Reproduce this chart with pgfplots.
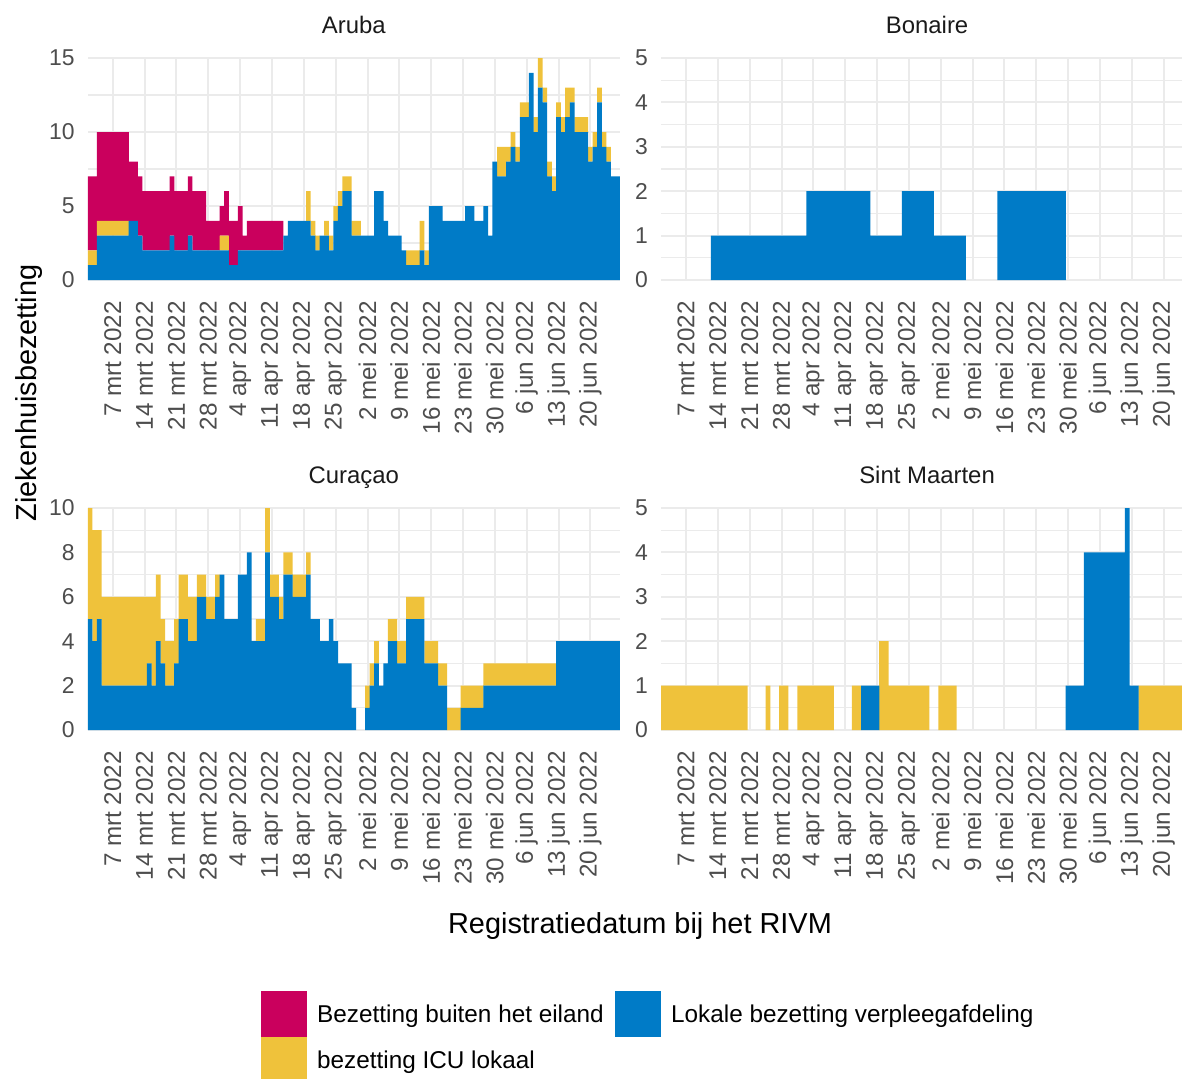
\documentclass[border=0pt]{standalone}
\usepackage{pgfplots}
\pgfplotsset{compat=1.18}
\usepackage{pgfplotstable}
\usepackage{fontspec}
\setmainfont{Liberation Sans}
\definecolor{cred}{HTML}{CA005D}
\definecolor{cyellow}{HTML}{EFC23B}
\definecolor{cblue}{HTML}{007BC7}
\definecolor{gridc}{HTML}{EBEBEB}
\definecolor{tickc}{HTML}{4D4D4D}
\definecolor{stripc}{HTML}{1A1A1A}
\pgfplotsset{
 panel/.style={
   scale only axis, width=532.1bp, height=222bp,
   xmin=0.5, xmax=117.5, ymin=0, enlargelimits=false,
   ybar stacked, bar width=1.04,
   axis line style={draw=none}, tick style={draw=none},
   major tick length=0pt, minor tick length=0pt,
   xtick={6,13,...,111},
   xticklabels={7 mrt 2022,14 mrt 2022,21 mrt 2022,28 mrt 2022,4 apr 2022,11 apr 2022,18 apr 2022,25 apr 2022,2 mei 2022,9 mei 2022,16 mei 2022,23 mei 2022,30 mei 2022,6 jun 2022,13 jun 2022,20 jun 2022},
   xticklabel style={rotate=90, anchor=east, inner sep=0pt, font=\fontsize{24.3}{24.3}\selectfont, text=tickc},
   xticklabel shift=21bp,
   yticklabel style={anchor=east, inner sep=0pt, font=\fontsize{23}{23}\selectfont, text=tickc},
   yticklabel shift=13bp,
   /pgf/number format/assume math mode=true,
   xmajorgrids, ymajorgrids, yminorgrids,
   major grid style={draw=gridc, line width=2bp},
   minor grid style={draw=gridc, line width=1.2bp},
   title style={at={(0.5,1)}, anchor=base, yshift=19bp, inner sep=0pt, font=\fontsize{24}{24}\selectfont, text=stripc},
 }
}
\begin{document}
\pgfplotstableread{
d blu yel red
1 1 1 5
2 1 1 5
3 3 1 6
4 3 1 6
5 3 1 6
6 3 1 6
7 3 1 6
8 3 1 6
9 3 1 6
10 4 0 4
11 4 0 4
12 3 0 4
13 2 0 4
14 2 0 4
15 2 0 4
16 2 0 4
17 2 0 4
18 2 0 4
19 3 0 4
20 2 0 4
21 2 0 4
22 2 0 4
23 3 0 4
24 2 0 4
25 2 0 4
26 2 0 4
27 2 0 2
28 2 0 2
29 2 0 2
30 2 1 2
31 2 1 3
32 1 0 3
33 1 0 3
34 2 0 3
35 2 0 1
36 2 0 2
37 2 0 2
38 2 0 2
39 2 0 2
40 2 0 2
41 2 0 2
42 2 0 2
43 2 0 2
44 3 0 0
45 4 0 0
46 4 0 0
47 4 0 0
48 4 0 0
49 4 2 0
50 3 1 0
51 2 1 0
52 3 0 0
53 3 1 0
54 2 1 0
55 4 1 0
56 5 1 0
57 6 1 0
58 6 1 0
59 3 1 0
60 3 1 0
61 3 0 0
62 3 0 0
63 3 0 0
64 6 0 0
65 6 0 0
66 4 0 0
67 3 0 0
68 3 0 0
69 3 0 0
70 2 0 0
71 1 1 0
72 1 1 0
73 1 1 0
74 2 2 0
75 1 1 0
76 5 0 0
77 5 0 0
78 5 0 0
79 4 0 0
80 4 0 0
81 4 0 0
82 4 0 0
83 4 0 0
84 5 0 0
85 5 0 0
86 4 0 0
87 4 0 0
88 5 0 0
89 3 0 0
90 8 0 0
91 7 2 0
92 7 2 0
93 8 1 0
94 9 1 0
95 8 1 0
96 11 1 0
97 11 1 0
98 14 0 0
99 10 1 0
100 13 2 0
101 12 1 0
102 7 1 0
103 6 1 0
104 11 1 0
105 10 1 0
106 11 2 0
107 12 1 0
108 10 1 0
109 10 1 0
110 10 1 0
111 8 1 0
112 9 1 0
113 12 1 0
114 9 1 0
115 8 1 0
116 7 0 0
117 7 0 0
}\aruba
\pgfplotstableread{
d blu
1 0
2 0
3 0
4 0
5 0
6 0
7 0
8 0
9 0
10 0
11 0
12 1
13 1
14 1
15 1
16 1
17 1
18 1
19 1
20 1
21 1
22 1
23 1
24 1
25 1
26 1
27 1
28 1
29 1
30 1
31 1
32 1
33 2
34 2
35 2
36 2
37 2
38 2
39 2
40 2
41 2
42 2
43 2
44 2
45 2
46 2
47 1
48 1
49 1
50 1
51 1
52 1
53 1
54 2
55 2
56 2
57 2
58 2
59 2
60 2
61 1
62 1
63 1
64 1
65 1
66 1
67 1
68 0
69 0
70 0
71 0
72 0
73 0
74 0
75 2
76 2
77 2
78 2
79 2
80 2
81 2
82 2
83 2
84 2
85 2
86 2
87 2
88 2
89 2
90 0
91 0
92 0
93 0
94 0
95 0
96 0
97 0
98 0
99 0
100 0
101 0
102 0
103 0
104 0
105 0
106 0
107 0
108 0
109 0
110 0
111 0
112 0
113 0
114 0
115 0
116 0
117 0
}\bonaire
\pgfplotstableread{
d blu yel
1 5 5
2 4 5
3 5 4
4 2 4
5 2 4
6 2 4
7 2 4
8 2 4
9 2 4
10 2 4
11 2 4
12 2 4
13 2 4
14 3 3
15 2 4
16 4 3
17 3 2
18 2 2
19 2 2
20 3 2
21 5 2
22 5 2
23 4 2
24 4 2
25 6 1
26 6 1
27 5 1
28 5 1
29 6 1
30 7 0
31 5 0
32 5 0
33 5 0
34 7 0
35 7 0
36 8 0
37 4 0
38 4 1
39 4 1
40 8 2
41 6 1
42 6 1
43 5 1
44 7 1
45 7 1
46 6 1
47 6 1
48 6 1
49 7 1
50 5 0
51 5 0
52 4 0
53 4 0
54 5 0
55 4 0
56 3 0
57 3 0
58 3 0
59 1 0
60 0 0
61 0 0
62 1 1
63 2 1
64 3 1
65 2 0
66 3 0
67 4 1
68 4 1
69 3 1
70 3 1
71 5 1
72 5 1
73 5 1
74 5 1
75 3 1
76 3 1
77 3 1
78 2 1
79 2 1
80 0 1
81 0 1
82 0 1
83 1 1
84 1 1
85 1 1
86 1 1
87 1 1
88 2 1
89 2 1
90 2 1
91 2 1
92 2 1
93 2 1
94 2 1
95 2 1
96 2 1
97 2 1
98 2 1
99 2 1
100 2 1
101 2 1
102 2 1
103 2 1
104 4 0
105 4 0
106 4 0
107 4 0
108 4 0
109 4 0
110 4 0
111 4 0
112 4 0
113 4 0
114 4 0
115 4 0
116 4 0
117 4 0
}\curacao
\pgfplotstableread{
d blu yel
1 0 1
2 0 1
3 0 1
4 0 1
5 0 1
6 0 1
7 0 1
8 0 1
9 0 1
10 0 1
11 0 1
12 0 1
13 0 1
14 0 1
15 0 1
16 0 1
17 0 1
18 0 1
19 0 1
20 0 0
21 0 0
22 0 0
23 0 0
24 0 1
25 0 0
26 0 0
27 0 1
28 0 1
29 0 0
30 0 0
31 0 1
32 0 1
33 0 1
34 0 1
35 0 1
36 0 1
37 0 1
38 0 1
39 0 0
40 0 0
41 0 0
42 0 0
43 0 1
44 0 1
45 1 0
46 1 0
47 1 0
48 1 0
49 0 2
50 0 2
51 0 1
52 0 1
53 0 1
54 0 1
55 0 1
56 0 1
57 0 1
58 0 1
59 0 1
60 0 0
61 0 0
62 0 1
63 0 1
64 0 1
65 0 1
66 0 0
67 0 0
68 0 0
69 0 0
70 0 0
71 0 0
72 0 0
73 0 0
74 0 0
75 0 0
76 0 0
77 0 0
78 0 0
79 0 0
80 0 0
81 0 0
82 0 0
83 0 0
84 0 0
85 0 0
86 0 0
87 0 0
88 0 0
89 0 0
90 1 0
91 1 0
92 1 0
93 1 0
94 4 0
95 4 0
96 4 0
97 4 0
98 4 0
99 4 0
100 4 0
101 4 0
102 4 0
103 5 0
104 1 0
105 1 0
106 0 1
107 0 1
108 0 1
109 0 1
110 0 1
111 0 1
112 0 1
113 0 1
114 0 1
115 0 1
116 0 1
117 0 1
}\sintmaarten
\begin{tikzpicture}[x=1bp,y=1bp]
\useasboundingbox (0,0) rectangle (1182,-1079);
% Aruba
\begin{axis}[panel, at={(87.8bp,-280bp)}, anchor=south west, ymax=15,
  ytick={0,5,10,15}, minor ytick={2.5,7.5,12.5}, title=Aruba]
\addplot[fill=cblue, draw=none] table[x=d, y=blu] {\aruba};
\addplot[fill=cyellow, draw=none] table[x=d, y=yel] {\aruba};
\addplot[fill=cred, draw=none] table[x=d, y=red] {\aruba};
\end{axis}
% Bonaire
\begin{axis}[panel, at={(661bp,-280bp)}, anchor=south west, ymax=5,
  ytick={0,1,2,3,4,5}, minor ytick={0.5,1.5,2.5,3.5,4.5}, title=Bonaire]
\addplot[fill=cblue, draw=none] table[x=d, y=blu] {\bonaire};
\end{axis}
% Curacao
\begin{axis}[panel, at={(87.8bp,-730bp)}, anchor=south west, ymax=10,
  ytick={0,2,4,6,8,10}, minor ytick={1,3,5,7,9}, title={Curaçao}]
\addplot[fill=cblue, draw=none] table[x=d, y=blu] {\curacao};
\addplot[fill=cyellow, draw=none] table[x=d, y=yel] {\curacao};
\end{axis}
% Sint Maarten
\begin{axis}[panel, at={(661bp,-730bp)}, anchor=south west, ymax=5,
  ytick={0,1,2,3,4,5}, minor ytick={0.5,1.5,2.5,3.5,4.5}, title={Sint Maarten}]
\addplot[fill=cblue, draw=none] table[x=d, y=blu] {\sintmaarten};
\addplot[fill=cyellow, draw=none] table[x=d, y=yel] {\sintmaarten};
\end{axis}
% axis titles
\node[rotate=90, anchor=base, inner sep=0pt, font=\fontsize{29}{29}\selectfont] at (36,-393) {Ziekenhuisbezetting};
\node[anchor=base, inner sep=0pt, font=\fontsize{29}{29}\selectfont] at (640,-933) {Registratiedatum bij het RIVM};
% legend
\fill[cred] (261,-991) rectangle (307,-1037);
\fill[cyellow] (261,-1037) rectangle (307,-1083);
\fill[cblue] (615,-991) rectangle (661,-1037);
\node[anchor=base west, inner sep=0pt, font=\fontsize{24.4}{24.4}\selectfont] at (317,-1022) {Bezetting buiten het eiland};
\node[anchor=base west, inner sep=0pt, font=\fontsize{24.4}{24.4}\selectfont] at (671,-1022) {Lokale bezetting verpleegafdeling};
\node[anchor=base west, inner sep=0pt, font=\fontsize{24.4}{24.4}\selectfont] at (317,-1068) {bezetting ICU lokaal};
\end{tikzpicture}
\end{document}
